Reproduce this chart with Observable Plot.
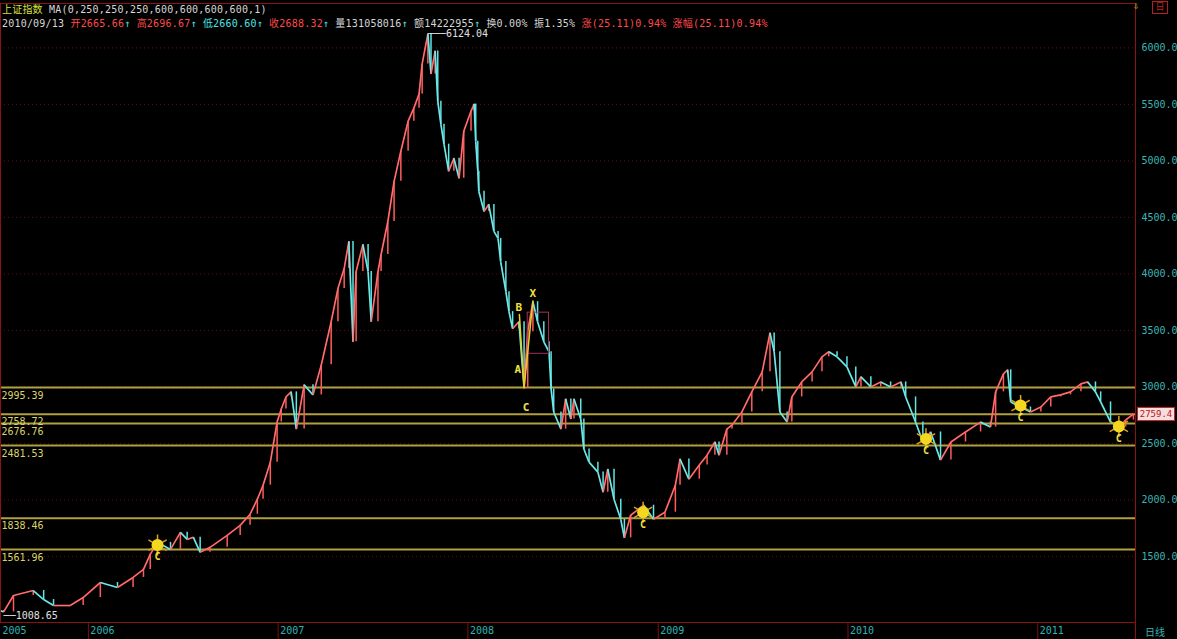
<!DOCTYPE html>
<html>
<head>
<meta charset="utf-8">
<script src="https://cdn.jsdelivr.net/npm/d3@7"></script>
<script src="https://cdn.jsdelivr.net/npm/@observablehq/plot@0.6"></script>
<style>
  html, body { margin: 0; padding: 0; background: #000; }
  #wrap { position: relative; width: 1177px; height: 639px; overflow: hidden; background: #000; }
  .row { position: absolute; left: 2px; font: 10px "DejaVu Sans Mono", "Noto Sans CJK SC", monospace; white-space: pre; color: #cfcfcf; letter-spacing: 0.2px; }
  .r { color: #ff4a4a; }
  .c { color: #4fe3e3; }
  .y { color: #d8e040; }
  .w { color: #d6d6d6; }
  .tag { position: absolute; left: 1137px; width: 36px; height: 12px; background: #f6dede; border: 1px solid #c02828; color: #c01010;
         font: 9px "DejaVu Sans Mono", monospace; line-height: 12px; text-align: center; }
  .corner { position: absolute; font: 10px "DejaVu Sans Mono", "Noto Sans CJK SC", monospace; }
</style>
</head>
<body>
<div id="wrap"></div>
<script>
// Shanghai Composite daily chart, traced weekly-ish closes
const dates = [
  "2005-07-16","2005-07-22","2005-08-10","2005-09-17","2005-10-07","2005-10-26","2005-11-27","2005-12-22",
  "2006-01-24","2006-02-26","2006-03-28","2006-04-17","2006-04-30","2006-05-14","2006-06-08","2006-06-27",
  "2006-07-10","2006-07-22","2006-08-04","2006-08-23","2006-09-25","2006-10-20","2006-11-08","2006-11-22",
  "2006-12-03","2006-12-17","2006-12-30",
  "2007-01-07","2007-01-16","2007-01-26","2007-02-05","2007-02-20","2007-03-09","2007-03-25","2007-04-13",
  "2007-04-26","2007-05-08","2007-05-17","2007-05-25","2007-05-31","2007-06-13","2007-06-23","2007-06-29",
  "2007-07-12","2007-07-18","2007-07-31","2007-08-12","2007-08-25","2007-09-08","2007-09-19","2007-09-29",
  "2007-10-05","2007-10-16","2007-10-22","2007-10-30","2007-11-04","2007-11-10","2007-11-16","2007-11-25",
  "2007-12-05","2007-12-15","2007-12-24",
  "2008-01-07","2008-01-13","2008-01-16","2008-01-20","2008-01-22","2008-02-01","2008-02-10","2008-02-20",
  "2008-02-28","2008-03-04","2008-03-14","2008-03-20","2008-03-27","2008-04-08","2008-04-18","2008-04-25",
  "2008-05-05","2008-05-14","2008-05-26","2008-06-05","2008-06-09","2008-06-14","2008-06-28","2008-07-07",
  "2008-07-17","2008-07-23","2008-08-05","2008-08-11","2008-08-21","2008-09-07","2008-09-17","2008-09-26",
  "2008-10-08","2008-10-21","2008-10-28","2008-11-09","2008-12-04","2008-12-23",
  "2009-01-14","2009-02-03","2009-02-12","2009-03-01","2009-03-21","2009-04-05","2009-04-20","2009-04-28",
  "2009-05-13","2009-05-23","2009-06-11","2009-06-30","2009-07-20","2009-08-04","2009-08-12","2009-08-23",
  "2009-09-06","2009-09-15","2009-10-04","2009-10-24","2009-11-12","2009-11-25","2009-12-11","2009-12-30",
  "2010-01-16","2010-01-26","2010-02-14","2010-03-05","2010-03-24","2010-04-13","2010-04-22","2010-05-11",
  "2010-05-25","2010-06-09","2010-06-28","2010-07-18","2010-08-15","2010-09-13","2010-10-02","2010-10-12",
  "2010-10-27","2010-11-04","2010-11-10","2010-11-29","2010-12-18",
  "2011-01-07","2011-01-26","2011-02-14","2011-03-05","2011-03-25","2011-04-07","2011-04-22","2011-05-02",
  "2011-05-21","2011-06-06","2011-06-19","2011-07-04"
];
const closes = [
  1020, 1008.65, 1154, 1198, 1118, 1065, 1065, 1136,
  1269, 1225, 1314, 1385, 1518, 1624, 1562, 1713,
  1651, 1669, 1536, 1580, 1686, 1775, 1873, 2006,
  2130, 2334, 2689,
  2805, 2911, 2956, 2627, 3018, 2929, 3195, 3577,
  3870, 4047, 4287, 3399, 4021, 4260, 4021, 3577,
  4021, 4172, 4464, 4819, 5086, 5352, 5467, 5592,
  5858, 6124.04, 5769, 5973, 5529, 5325, 5148, 4908,
  5024, 4846, 5263,
  5441, 5503, 5174, 4908, 4731, 4553, 4615, 4376,
  4314, 4109, 3843, 3666, 3515, 3577, 2990, 3488,
  3754, 3577, 3399, 3311, 2982, 2778, 2627, 2893,
  2716, 2893, 2716, 2450, 2334, 2246, 2068, 2272,
  2006, 1828, 1664, 1864, 1953, 1828,
  1891, 2130, 2361, 2183, 2308, 2396, 2512, 2396,
  2627, 2663, 2778, 2956, 3133, 3478, 3311, 2778,
  2689, 2911, 3044, 3133, 3266, 3311, 3266, 3177,
  3000, 3089, 3000, 3044, 3000, 3044, 2911, 2689,
  2512, 2601, 2352, 2512, 2601, 2688.32, 2645, 2956,
  3115, 3151, 2867, 2822, 2778,
  2822, 2911, 2929, 2956, 3027, 3044, 2956, 2867,
  2689, 2645, 2707, 2759.4
];

// Horizontal support / resistance levels
const levels = [2995.39, 2758.72, 2676.76, 2481.53, 1838.46, 1561.96];

// Price axis ticks and calendar ticks
const yTicks = [1500, 2000, 2500, 3000, 3500, 4000, 4500, 5000, 5500, 6000];
const yearStarts = ["2006-01-01","2007-01-01","2008-01-01","2009-01-01","2010-01-01","2011-01-01"];
const xStart = "2005-07-16";
const xEnd = "2011-07-08";

// Pattern markers (harmonic completion zones)
const blobDates = ["2006-05-14","2008-12-03","2010-05-31","2010-11-29","2011-06-06"];
const blobValues = [1600, 1890, 2540, 2835, 2650];

// A-B-C-X swing in spring 2008
const swingLabels = ["B", "A", "X", "C"];
const swingLabelDates = ["2008-04-08","2008-04-06","2008-05-05","2008-04-22"];
const swingLabelValues = [3700, 3151, 3830, 2822];
const swingPathDates = ["2008-04-09","2008-04-18","2008-05-05"];
const swingPathValues = [3640, 2990, 3760];
const boxDates = ["2008-04-25","2008-06-05"];
const boxValues = [3293, 3657];

const parse = d3.utcParse("%Y-%m-%d");
const series = dates.map((d, i) => ({date: parse(d), close: closes[i]}));
const segs = series.slice(1).map((d, i) => ({
  x1: series[i].date, y1: series[i].close, x2: d.date, y2: d.close,
  color: d.close >= series[i].close ? "#ff5c5c" : "#5fe6e6"
}));
const peak = series.find(d => d.close === 6124.04);
const low = series.find(d => d.close === 1008.65);
const blobs = blobDates.map((d, i) => ({date: parse(d), value: blobValues[i]}));
const swingText = swingLabels.map((t, i) => ({t, date: parse(swingLabelDates[i]), value: swingLabelValues[i]}));
const swingPath = swingPathDates.map((d, i) => ({date: parse(d), value: swingPathValues[i]}));
const xDomain = [parse(xStart), parse(xEnd)];
const labelTicks = [parse(xStart), ...yearStarts.map(parse)];

const chart = Plot.plot({
  width: 1177,
  height: 639,
  marginLeft: 0,
  marginRight: 42,
  marginTop: 3,
  marginBottom: 17,
  style: {background: "#000", color: "#3cb4b4", fontFamily: "DejaVu Sans Mono, monospace", fontSize: "10px"},
  x: {type: "utc", domain: xDomain},
  y: {domain: [915, 6393]},
  color: {type: "identity"},
  marks: [
    Plot.gridY(yTicks, {stroke: "#6e0c0c", strokeOpacity: 1, strokeDasharray: "1,3"}),
    Plot.ruleY(levels, {stroke: "#b0a040", strokeWidth: 2}),
    Plot.text(levels, {x: () => xDomain[0], y: d => d, text: d => d.toFixed(2), textAnchor: "start", dy: 8, dx: 1, fill: "#dcd468"}),
    // candle-style bodies between successive closes, joined by links
    Plot.ruleX(segs, {x: "x2", y1: "y1", y2: "y2", stroke: "color", strokeWidth: 1.5}),
    Plot.link(segs, {x1: "x1", y1: "y1", x2: "x2", y2: "y2", stroke: "color", strokeWidth: 1.7}),
    Plot.link(segs, {x1: "x1", y1: "y1", x2: "x2", y2: "y2", stroke: "#f0f0f0", strokeWidth: 0.5, strokeOpacity: 0.35}),
    // swing annotations
    Plot.rect([0], {x1: () => parse(boxDates[0]), x2: () => parse(boxDates[1]), y1: () => boxValues[0], y2: () => boxValues[1], stroke: "#a0305a", fill: "none"}),
    Plot.line(swingPath, {x: "date", y: "value", stroke: "#e8d020", strokeWidth: 1.5}),
    Plot.text(swingText, {x: "date", y: "value", text: "t", fill: "#f0e040", fontSize: 11, fontWeight: "bold"}),
    // pattern blobs
    Plot.dot(blobs, {x: "date", y: "value", r: 10, symbol: "asterisk", stroke: "#e0a020", strokeWidth: 1.5}),
    Plot.dot(blobs, {x: "date", y: "value", r: 6, fill: "#f4d820"}),
    Plot.text(blobs, {x: "date", y: "value", text: () => "C", dy: 12, fill: "#f0e040", fontSize: 10, fontWeight: "bold"}),
    // extremes
    Plot.text([peak], {x: "date", y: "close", text: d => "───" + d.close.toFixed(2), textAnchor: "start", fill: "#e0e0e0"}),
    Plot.text([low], {x: "date", y: "close", text: d => "──" + d.close.toFixed(2), textAnchor: "start", dy: 4, fill: "#e0e0e0"}),
    // axes
    Plot.axisY(yTicks, {anchor: "right", tickSize: 0, tickPadding: 6, tickFormat: d => d.toFixed(1), fill: "#3cb4b4"}),
    Plot.axisX(yearStarts.map(parse), {tickSize: 17, stroke: "#7a1010", tickFormat: () => ""}),
    Plot.axisX(labelTicks, {tickSize: 0, tickPadding: 4, tickFormat: d3.utcFormat("%Y"), textAnchor: "start", dx: 2, fill: "#2fb4b4"}),
    Plot.frame({stroke: "#8a1212"})
  ]
});

const wrap = document.getElementById("wrap");
wrap.appendChild(chart);

// header rows
const row1 = document.createElement("div");
row1.className = "row";
row1.style.top = "1px";
row1.innerHTML = '<span class="y">上证指数</span> <span class="w">MA(0,250,250,250,600,600,600,600,1)</span>';
wrap.appendChild(row1);

const row2 = document.createElement("div");
row2.className = "row";
row2.style.top = "15px";
row2.innerHTML =
  '<span class="w">2010/09/13</span> ' +
  '<span class="r">开2665.66</span><span class="c">↑</span> ' +
  '<span class="r">高2696.67</span><span class="c">↑</span> ' +
  '<span class="c">低2660.60</span><span class="c">↑</span> ' +
  '<span class="r">收2688.32</span><span class="c">↑</span> ' +
  '<span class="w">量131058016</span><span class="c">↑</span> ' +
  '<span class="w">额14222955</span><span class="c">↑</span> ' +
  '<span class="w">换0.00%</span> ' +
  '<span class="w">振1.35%</span> ' +
  '<span class="r">涨(25.11)0.94%</span> ' +
  '<span class="r">涨幅(25.11)0.94%</span>';
wrap.appendChild(row2);

// last price tag on the price axis
const yScale = chart.scale("y");
const lastClose = closes[closes.length - 1];
const tag = document.createElement("div");
tag.className = "tag";
tag.style.top = (yScale.apply(lastClose) - 7) + "px";
tag.textContent = lastClose.toFixed(1);
wrap.appendChild(tag);

// corner widgets
const arrow = document.createElement("div");
arrow.className = "corner";
arrow.style.cssText += "left:1133px;top:0px;color:#e0d020;";
arrow.textContent = "⇩";
wrap.appendChild(arrow);

const dayBox = document.createElement("div");
dayBox.className = "corner";
dayBox.style.cssText += "left:1152px;top:1px;width:14px;height:11px;border:1px solid #b02020;color:#c02020;font-size:9px;line-height:11px;text-align:center;";
dayBox.textContent = "日";
wrap.appendChild(dayBox);

const period = document.createElement("div");
period.className = "corner";
period.style.cssText += "left:1145px;top:624px;color:#3cb4b4;";
period.textContent = "日线";
wrap.appendChild(period);

const sep = document.createElement("div");
sep.style.cssText = "position:absolute;left:1135px;top:622px;width:1px;height:17px;background:#8a1212;";
wrap.appendChild(sep);
</script>
</body>
</html>
